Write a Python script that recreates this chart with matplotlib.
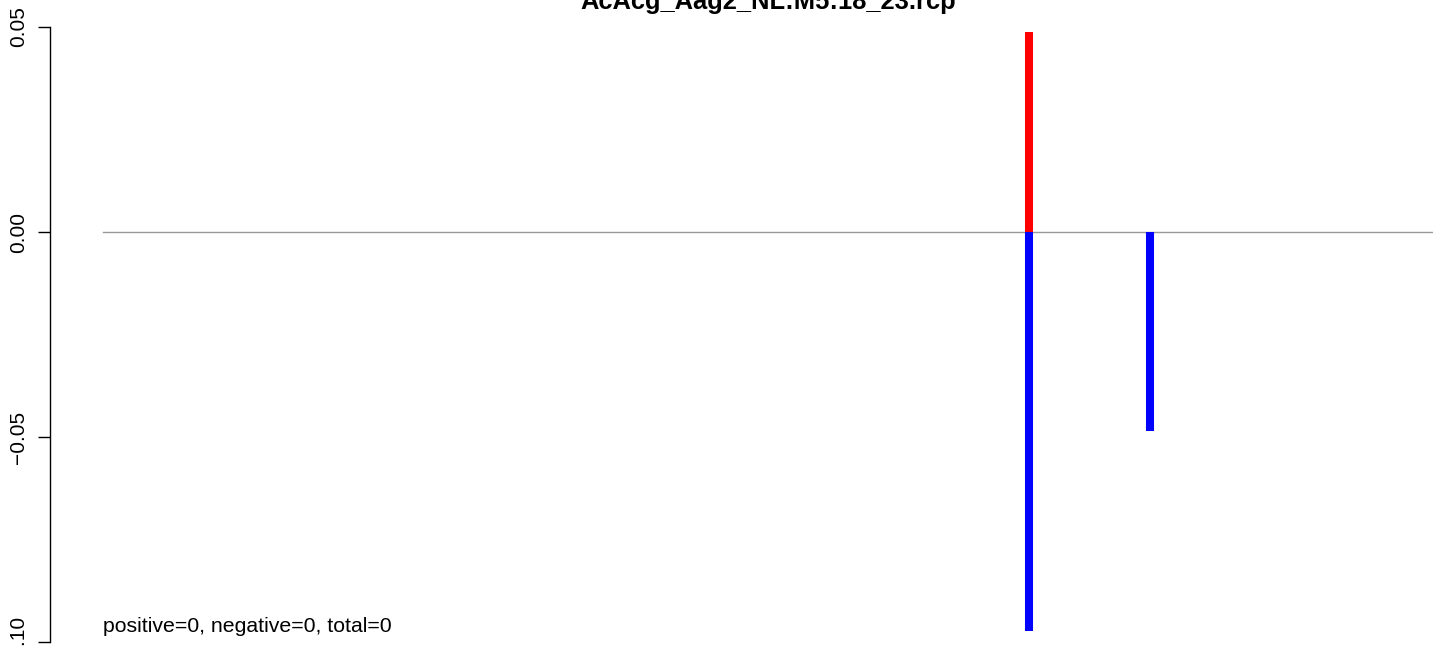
import numpy as np
import matplotlib
matplotlib.use("Agg")
from matplotlib import pyplot as plt

plt.rcParams['font.family'] = ['Liberation Sans', 'DejaVu Sans']

title = "AcAcg_Aag2_NL:M5:18_23.rcp"
# positions along the reference (0..100) and their values
x_range = [0, 100]
pos_x = [69.6]
pos_y = [0.0488]
neg_x = [69.6, 78.7]
neg_y = [-0.0973, -0.0485]
yticks = [-0.10, -0.05, 0.00, 0.05]
counts = {"positive": 0, "negative": 0, "total": 0}

W, H = 1433, 647
fig = plt.figure(figsize=(W / 100, H / 100), dpi=100)
# plot region is wider/taller than the saved picture (cropped like the reference)
ax = fig.add_axes([50 / W, (H - 655) / H, 1436 / W, 647 / H])

# R-style 4% padding on both axes
xr = x_range[1] - x_range[0]
ax.set_xlim(x_range[0] - 0.04 * xr, x_range[1] + 0.04 * xr)
all_y = pos_y + neg_y
ymin, ymax = min(all_y), max(all_y)
yr = ymax - ymin
ax.set_ylim(ymin - 0.04 * yr, ymax + 0.04 * yr)

ax.plot(x_range, [0, 0], color="#999999", lw=1.0, zorder=1)
ax.vlines(pos_x, 0, pos_y, color="red", lw=5.8, capstyle="butt", zorder=2)
ax.vlines(neg_x, 0, neg_y, color="blue", lw=5.8, capstyle="butt", zorder=2)

for s in ["top", "right", "bottom"]:
    ax.spines[s].set_visible(False)
ax.spines["left"].set_bounds(min(yticks), max(yticks))
ax.spines["left"].set_linewidth(1.0)
ax.set_xticks([])
ax.set_yticks(yticks)
ax.set_yticklabels(["\u22120.10", "\u22120.05", "0.00", "0.05"], rotation=90,
                   va="center", fontsize=15)
ax.tick_params(axis="y", length=8.6, width=1.0, pad=7)

txt = ", ".join(f"{k}={v}" for k, v in counts.items())
ax.text(x_range[0], -0.0963, txt, ha="left", va="center", fontsize=15.3)

fig.text((50 + 1436 / 2) / W, 1 - 9 / H, title, ha="center", va="baseline",
         fontsize=18.4, fontweight="bold")

fig.savefig("out.png", dpi=100)
